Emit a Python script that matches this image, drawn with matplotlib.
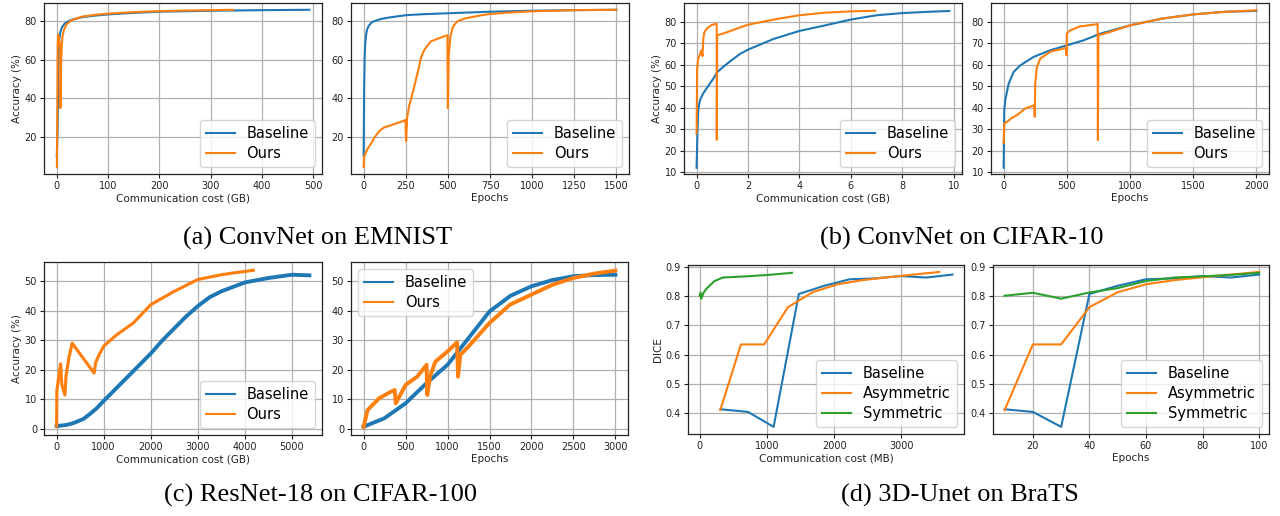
import matplotlib
matplotlib.use("Agg")
import matplotlib.pyplot as plt

# ---------------- data ----------------
# (a) ConvNet on EMNIST
a_cost_base_x = [0.3, 2, 3, 4, 5, 7, 10, 15, 20, 30, 50, 75, 100, 150, 200, 300, 400, 492]
a_cost_base_y = [10, 26, 45, 62, 70, 74, 76.5, 78.5, 79.5, 80.7, 82, 82.8, 83.4, 84.2, 84.8, 85.3, 85.6, 85.8]
a_cost_ours_x = [0.5, 1, 1.5, 2, 2.5, 3, 4, 5, 6, 7, 7.3, 8, 9, 10, 12, 15, 20, 30, 50, 75, 100, 150, 200, 250, 300, 343]
a_cost_ours_y = [4.5, 20, 45, 66, 72, 73, 72, 70, 68, 66, 35, 45, 60, 68, 73, 76, 78.5, 80.5, 82.3, 83.2, 83.8, 84.6, 85.1, 85.4, 85.6, 85.8]
a_ep_base_x = [0, 3, 6, 10, 15, 20, 30, 50, 100, 150, 250, 350, 500, 750, 1000, 1250, 1500]
a_ep_base_y = [10.5, 45, 62, 69, 73, 75.5, 77.5, 79.5, 81, 81.8, 83, 83.5, 84, 84.8, 85.3, 85.6, 85.8]
a_ep_ours_x = [0, 3, 10, 25, 50, 65, 95, 120, 150, 190, 240, 248, 252, 258, 270, 300, 325, 340, 360, 380, 400, 450, 494, 497, 500, 505, 515, 530, 555, 600, 700, 750, 850, 1000, 1250, 1500]
a_ep_ours_y = [4.5, 10, 11.5, 14.3, 17.5, 20, 23.3, 25, 25.8, 27, 28.5, 29, 18, 30, 36, 46, 55, 61, 65, 67.5, 69.5, 71.2, 72.6, 72.6, 35, 62, 72, 77, 79.8, 81.3, 83, 83.6, 84.3, 85, 85.6, 85.8]

# (b) ConvNet on CIFAR-10
b_cost_base_x = [0, 0.03, 0.065, 0.13, 0.25, 0.39, 0.65, 0.8, 1.04, 1.35, 1.69, 2, 2.5, 3, 4, 5, 6, 7, 8, 9, 9.83]
b_cost_base_y = [12, 28, 39, 43.5, 46.5, 49, 53.5, 56.5, 59, 62, 65, 67, 69.5, 72, 75.7, 78.3, 81, 83, 84, 84.6, 85]
b_cost_ours_x = [0, 0.02, 0.05, 0.13, 0.19, 0.23, 0.26, 0.3, 0.39, 0.5, 0.6, 0.75, 0.78, 0.785, 0.8, 1.04, 1.5, 2, 3, 4, 5, 6, 6.95]
b_cost_ours_y = [28, 58, 62, 65, 66.7, 64, 72, 75, 76.7, 77.8, 78.5, 79, 79, 25, 73.7, 74.5, 76.5, 78.6, 81, 83, 84.2, 84.8, 85.1]
b_ep_base_x = [0, 5, 13, 39, 79, 132, 237, 368, 500, 632, 763, 1000, 1250, 1500, 1750, 2000]
b_ep_base_y = [12, 39, 43.5, 51, 56.6, 59.7, 63.6, 66.7, 69, 71.3, 74.4, 78.3, 81.4, 83.4, 84.6, 85]
b_ep_ours_x = [0, 5, 30, 60, 105, 171, 237, 244, 246, 250, 263, 290, 368, 474, 495, 498, 500, 526, 605, 737, 744, 746, 750, 842, 1000, 1250, 1500, 1750, 2000]
b_ep_ours_y = [23.5, 32.6, 33.5, 35, 36.5, 39.6, 41, 41, 35.7, 51, 59, 62.8, 66, 67.5, 67.8, 64.4, 74.4, 76, 77.8, 78.8, 79, 24.9, 73.7, 75.2, 78.3, 81.4, 83.4, 84.6, 85.3]

# (c) ResNet-18 on CIFAR-100
c_cost_base_x = [0, 212, 354, 567, 700, 850, 1000, 1250, 1500, 1750, 2000, 2250, 2500, 2750, 3000, 3250, 3500, 3750, 4000, 4500, 5000, 5370]
c_cost_base_y = [1.0, 1.4, 2.0, 3.4, 5.0, 7.0, 9.5, 13.5, 17.5, 21.5, 25.5, 30, 34, 38, 41.5, 44.5, 46.5, 48, 49.5, 51, 52.1, 51.9]
c_cost_ours_x = [0, 5, 40, 85, 110, 176, 200, 260, 331, 797, 830, 900, 1000, 1275, 1629, 2000, 2500, 3000, 3500, 3754, 4180]
c_cost_ours_y = [1.0, 13, 17, 22, 15, 11.5, 18, 24, 29, 18.9, 22.5, 25, 28, 31.8, 35.8, 42, 46.5, 50.5, 52.1, 52.7, 53.6]
c_ep_base_x = [0, 245, 500, 750, 1000, 1250, 1500, 1750, 2000, 2250, 2500, 2750, 3000]
c_ep_base_y = [0.8, 3.6, 8.7, 15.5, 21.7, 30.7, 39.7, 45, 48.2, 50.3, 51.6, 52, 52.1]
c_ep_ours_x = [0, 47, 185, 324, 371, 383, 500, 639, 750, 758, 797, 856, 1000, 1113, 1125, 1152, 1250, 1500, 1744, 2000, 2257, 2500, 2750, 3000]
c_ep_ours_y = [0.8, 6.4, 10.4, 12.6, 13.2, 8.7, 14.9, 17.7, 21.7, 11.5, 18.3, 22.8, 26.2, 29.3, 17.7, 25, 27.9, 35.8, 42, 45.4, 48.8, 51, 52.5, 53.5]

# (d) 3D-Unet on BraTS
d_epochs = [10, 20, 30, 40, 50, 60, 70, 80, 90, 100]
d_base_dice = [0.414, 0.405, 0.354, 0.807, 0.835, 0.857, 0.860, 0.868, 0.863, 0.873]
d_asym_dice = [0.411, 0.635, 0.635, 0.762, 0.813, 0.840, 0.854, 0.864, 0.873, 0.882]
d_sym_dice = [0.801, 0.811, 0.791, 0.812, 0.827, 0.851, 0.863, 0.867, 0.872, 0.879]
d_base_cost = [310, 720, 1100, 1475, 1855, 2230, 2610, 2990, 3370, 3760]
d_asym_cost = [307, 614, 960, 1312, 1680, 2050, 2420, 2800, 3180, 3564]
d_sym_cost = [0, 12, 25, 60, 110, 220, 345, 690, 1030, 1373]

captions = ["(a) ConvNet on EMNIST", "(b) ConvNet on CIFAR-10",
            "(c) ResNet-18 on CIFAR-100", "(d) 3D-Unet on BraTS"]

BLUE, ORANGE, GREEN = "#1f77b4", "#ff7f0e", "#2ca02c"

fig = plt.figure(figsize=(12.8, 5.16), dpi=100)
W, H = 1280.0, 516.0


def make_ax(l, t, r, b):
    ax = fig.add_axes([l / W, 1 - b / H, (r - l) / W, (b - t) / H])
    ax.grid(True, color="#b0b0b0", linewidth=0.9)
    ax.set_axisbelow(True)
    ax.tick_params(labelsize=7, length=3, width=0.8, pad=2, colors="#222222")
    for s in ax.spines.values():
        s.set_linewidth(0.9)
        s.set_color("#222222")
    return ax


def finish(ax, xlabel, ylabel=None, loc="lower right"):
    ax.set_xlabel(xlabel, fontsize=7.5, labelpad=1.5, color="#222222")
    if ylabel:
        ax.set_ylabel(ylabel, fontsize=7.5, labelpad=2, color="#222222")
    leg = ax.legend(loc=loc, fontsize=10.5, handlelength=2.0, borderpad=0.4,
                    labelspacing=0.35, handletextpad=0.8)
    for h in leg.get_lines():
        h.set_linewidth(1.5)


lw = 1.5
# ---- row 1 ----
ax = make_ax(44, 3, 322, 174)
ax.plot(a_cost_base_x, a_cost_base_y, color=BLUE, lw=lw, label="Baseline")
ax.plot(a_cost_ours_x, a_cost_ours_y, color=ORANGE, lw=lw, label="Ours")
ax.set_xlim(-24.6, 516.6); ax.set_ylim(1.0, 89.3)
ax.set_xticks([0, 100, 200, 300, 400, 500]); ax.set_yticks([20, 40, 60, 80])
finish(ax, "Communication cost (GB)", "Accuracy (%)")

ax = make_ax(351, 3, 629, 174)
ax.plot(a_ep_base_x, a_ep_base_y, color=BLUE, lw=lw, label="Baseline")
ax.plot(a_ep_ours_x, a_ep_ours_y, color=ORANGE, lw=lw, label="Ours")
ax.set_xlim(-75, 1575); ax.set_ylim(1.0, 89.3)
ax.set_xticks([0, 250, 500, 750, 1000, 1250, 1500]); ax.set_yticks([20, 40, 60, 80])
finish(ax, "Epochs")

ax = make_ax(684, 3, 962, 174)
ax.plot(b_cost_base_x, b_cost_base_y, color=BLUE, lw=lw, label="Baseline")
ax.plot(b_cost_ours_x, b_cost_ours_y, color=ORANGE, lw=lw, label="Ours")
ax.set_xlim(-0.49, 10.32); ax.set_ylim(9.1, 88.7)
ax.set_xticks([0, 2, 4, 6, 8, 10]); ax.set_yticks([10, 20, 30, 40, 50, 60, 70, 80])
finish(ax, "Communication cost (GB)", "Accuracy (%)")

ax = make_ax(991, 3, 1269, 174)
ax.plot(b_ep_base_x, b_ep_base_y, color=BLUE, lw=lw, label="Baseline")
ax.plot(b_ep_ours_x, b_ep_ours_y, color=ORANGE, lw=lw, label="Ours")
ax.set_xlim(-100, 2100); ax.set_ylim(9.1, 88.7)
ax.set_xticks([0, 500, 1000, 1500, 2000]); ax.set_yticks([10, 20, 30, 40, 50, 60, 70, 80])
finish(ax, "Epochs")

# ---- row 2 ----
nlw = 2.8
ax = make_ax(44, 262, 322, 435)
ax.plot(c_cost_base_x, c_cost_base_y, color=BLUE, lw=nlw, label="Baseline")
ax.plot(c_cost_ours_x, c_cost_ours_y, color=ORANGE, lw=nlw * 0.8, label="Ours")
ax.set_xlim(-268, 5638); ax.set_ylim(-2.0, 56.4)
ax.set_xticks([0, 1000, 2000, 3000, 4000, 5000]); ax.set_yticks([0, 10, 20, 30, 40, 50])
finish(ax, "Communication cost (GB)", "Accuracy (%)")

ax = make_ax(351, 262, 628, 435)
ax.plot(c_ep_base_x, c_ep_base_y, color=BLUE, lw=nlw, label="Baseline")
ax.plot(c_ep_ours_x, c_ep_ours_y, color=ORANGE, lw=nlw, label="Ours")
ax.set_xlim(-150, 3150); ax.set_ylim(-2.0, 56.4)
ax.set_xticks([0, 500, 1000, 1500, 2000, 2500, 3000]); ax.set_yticks([0, 10, 20, 30, 40, 50])
finish(ax, "Epochs", loc="upper left")

ax = make_ax(688, 265, 964, 434)
ax.plot(d_base_cost, d_base_dice, color=BLUE, lw=lw, label="Baseline")
ax.plot(d_asym_cost, d_asym_dice, color=ORANGE, lw=lw, label="Asymmetric")
ax.plot(d_sym_cost, d_sym_dice, color=GREEN, lw=lw, label="Symmetric")
ax.set_xlim(-173, 3931); ax.set_ylim(0.3297, 0.9057)
ax.set_xticks([0, 1000, 2000, 3000]); ax.set_yticks([0.4, 0.5, 0.6, 0.7, 0.8, 0.9])
finish(ax, "Communication cost (MB)", "DICE")

ax = make_ax(993, 265, 1269, 434)
ax.plot(d_epochs, d_base_dice, color=BLUE, lw=lw, label="Baseline")
ax.plot(d_epochs, d_asym_dice, color=ORANGE, lw=lw, label="Asymmetric")
ax.plot(d_epochs, d_sym_dice, color=GREEN, lw=lw, label="Symmetric")
ax.set_xlim(5.9, 103.5); ax.set_ylim(0.3297, 0.9057)
ax.set_xticks([20, 40, 60, 80, 100]); ax.set_yticks([0.4, 0.5, 0.6, 0.7, 0.8, 0.9])
finish(ax, "Epochs")

# captions
cap_pos = [(318, 238), (962, 238), (320, 495), (960, 495)]
for txt, (cx, cy) in zip(captions, cap_pos):
    fig.text(cx / W, 1 - cy / H, txt, ha="center", va="center",
             fontsize=19, family="Liberation Serif")

fig.savefig("out.png", dpi=100)
